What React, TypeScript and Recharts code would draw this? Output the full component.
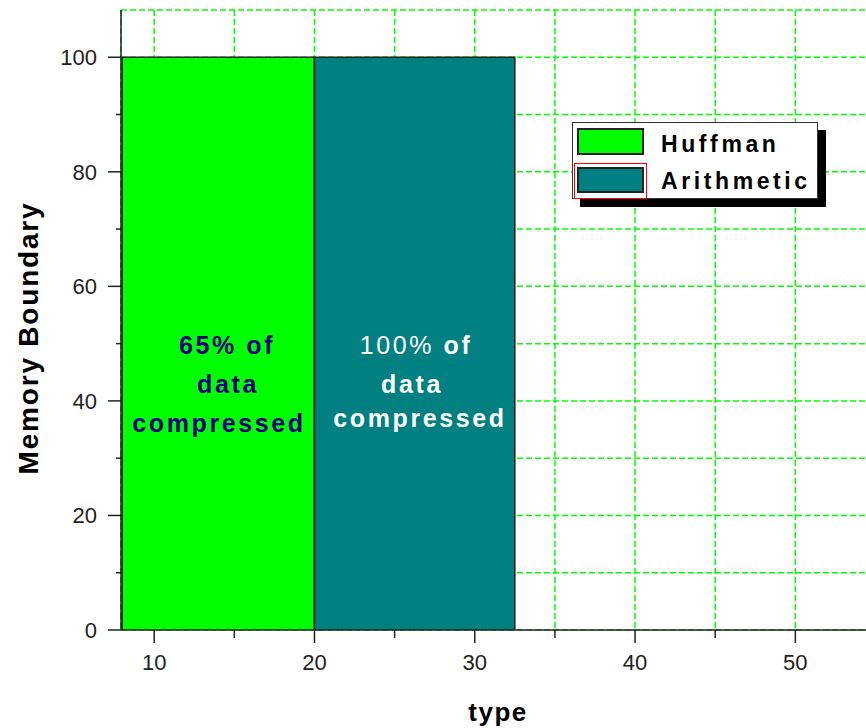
import React from 'react'
import { ComposedChart, Area, XAxis, YAxis, CartesianGrid, Label } from 'recharts'

// compression types drawn as blocks along "type"
const categories = ['Huffman', 'Arithmetic']
const typeStart = [8, 20]
const typeEnd = [20, 32.5]
const memoryBoundary = [100, 100]

const xTicks = [10, 15, 20, 25, 30, 35, 40, 45, 50]
const yTicks = [0, 10, 20, 30, 40, 50, 60, 70, 80, 90, 100]

const notesHuffman = ['65% of', 'data', 'compressed']
const notesArithmetic = ['100%', ' of', 'data', 'compressed']

const fills = ['#00FF00', '#008080']
const W = 866
const H = 728
const CHART_W = 875 // a little wider than the page, the right border is clipped off
const LEFT = 121
const TOP = 10
const BOTTOM = 630
const FONT = '"Liberation Sans", Arial, Helvetica, sans-serif'
const AXIS = '#222'

const series = categories.map((name, i) => ({
  name,
  fill: fills[i],
  data: [
    { type: typeStart[i], value: 0 },
    { type: typeStart[i], value: memoryBoundary[i] },
    { type: typeEnd[i], value: memoryBoundary[i] },
    { type: typeEnd[i], value: 0 },
  ],
}))

function BottomTick(props: any) {
  const { x, payload } = props
  const major = payload.value % 10 === 0
  return (
    <g>
      <line x1={x} x2={x} y1={BOTTOM} y2={BOTTOM + (major ? 13 : 8)} stroke={AXIS} strokeWidth={1.5} />
      {major && (
        <text x={x} y={BOTTOM + 32} dy="0.35em" textAnchor="middle" fontSize={22} fill="#222" fontFamily={FONT}>
          {payload.value}
        </text>
      )}
    </g>
  )
}

function TopTick(props: any) {
  const { x, payload } = props
  const major = payload.value % 10 === 0
  return <line x1={x} x2={x} y1={TOP} y2={TOP + (major ? 13 : 6)} stroke={AXIS} strokeWidth={1.5} />
}

function LeftTick(props: any) {
  const { y, payload } = props
  const major = payload.value % 20 === 0
  return (
    <g>
      <line x1={LEFT - (major ? 13 : 5)} x2={LEFT} y1={y} y2={y} stroke={AXIS} strokeWidth={1.5} />
      {major && (
        <text x={97} y={y} dy="0.35em" textAnchor="end" fontSize={22} fill="#222" fontFamily={FONT}>
          {payload.value}
        </text>
      )}
    </g>
  )
}

const noteStyle: React.CSSProperties = {
  position: 'absolute',
  transform: 'translate(-50%, -50%)',
  whiteSpace: 'pre',
  fontFamily: FONT,
  fontWeight: 'bold',
  fontSize: 25,
  letterSpacing: 2.6,
}

const legendText: React.CSSProperties = {
  position: 'absolute',
  left: 88,
  transform: 'translateY(-50%)',
  fontFamily: FONT,
  fontWeight: 'bold',
  fontSize: 23,
  letterSpacing: 3.6,
  color: '#000',
  whiteSpace: 'nowrap',
}

export default function App() {
  return (
    <div style={{ position: 'absolute', left: 0, top: 0, width: W, height: H, background: '#fff', overflow: 'hidden' }}>
      <ComposedChart width={CHART_W} height={H} margin={{ top: TOP, right: 0, bottom: 0, left: 0 }}>
        <CartesianGrid stroke="#00FF00" strokeDasharray="6 3" strokeWidth={1.5} />
        {series.map((s) => (
          <Area
            key={s.name}
            name={s.name}
            data={s.data}
            dataKey="value"
            type="linear"
            fill={s.fill}
            fillOpacity={1}
            stroke="#1a1a1a"
            strokeWidth={1.5}
            dot={false}
            activeDot={false}
            isAnimationActive={false}
          />
        ))}
        <XAxis
          type="number"
          dataKey="type"
          domain={[7.93, 54.97]}
          allowDataOverflow
          ticks={xTicks}
          interval={0}
          height={H - BOTTOM}
          stroke={AXIS}
          strokeWidth={1.5}
          tickLine={false}
          tick={<BottomTick />}
        >
          <Label
            content={() => (
              <text x={498} y={712} dy="0.35em" textAnchor="middle" fontSize={26} fontWeight="bold" letterSpacing={1.5} fontFamily={FONT} fill="#000">
                type
              </text>
            )}
          />
        </XAxis>
        <XAxis
          xAxisId="top"
          orientation="top"
          type="number"
          dataKey="type"
          domain={[7.93, 54.97]}
          allowDataOverflow
          ticks={xTicks}
          interval={0}
          height={0}
          stroke={AXIS}
          strokeWidth={1.5}
          tickLine={false}
          tick={<TopTick />}
        />
        <YAxis
          type="number"
          domain={[0, 108.25]}
          ticks={yTicks}
          interval={0}
          width={LEFT}
          stroke={AXIS}
          strokeWidth={1.5}
          tickLine={false}
          tick={<LeftTick />}
        >
          <Label
            content={() => (
              <text
                x={28}
                y={338}
                dy="0.35em"
                textAnchor="middle"
                transform="rotate(-90 28 338)"
                fontSize={28}
                fontWeight="bold"
                letterSpacing={1.8}
                fontFamily={FONT}
                fill="#000"
              >
                Memory Boundary
              </text>
            )}
          />
        </YAxis>
      </ComposedChart>

      {/* block annotations */}
      <div style={{ ...noteStyle, left: 227, top: 345, color: '#000080' }}>{notesHuffman[0]}</div>
      <div style={{ ...noteStyle, left: 228, top: 384, color: '#000080' }}>{notesHuffman[1]}</div>
      <div style={{ ...noteStyle, left: 219, top: 423, color: '#000080' }}>{notesHuffman[2]}</div>
      <div style={{ ...noteStyle, left: 416, top: 345, color: '#fff' }}>
        <span style={{ fontWeight: 'normal' }}>{notesArithmetic[0]}</span>
        {notesArithmetic[1]}
      </div>
      <div style={{ ...noteStyle, left: 412, top: 384, color: '#fff' }}>{notesArithmetic[2]}</div>
      <div style={{ ...noteStyle, left: 420, top: 418, color: '#fff' }}>{notesArithmetic[3]}</div>

      {/* legend */}
      <div
        style={{
          position: 'absolute',
          left: 572,
          top: 122,
          width: 246,
          height: 77,
          boxSizing: 'border-box',
          border: '1px solid #333',
          background: '#fff',
          boxShadow: '8px 8px 0 #000',
        }}
      >
        <div
          style={{
            position: 'absolute', left: 4, top: 5, width: 67, height: 27,
            boxSizing: 'border-box', background: fills[0], border: '2px solid #222',
          }}
        />
        <div style={{ ...legendText, top: 21 }}>{categories[0]}</div>
        <div
          style={{
            position: 'absolute', left: 1, top: 40, width: 73, height: 36,
            boxSizing: 'border-box', border: '1px solid #ff0000',
          }}
        />
        <div
          style={{
            position: 'absolute', left: 4, top: 44, width: 67, height: 26,
            boxSizing: 'border-box', background: fills[1], border: '2px solid #222',
          }}
        />
        <div style={{ ...legendText, top: 58 }}>{categories[1]}</div>
      </div>
    </div>
  )
}
